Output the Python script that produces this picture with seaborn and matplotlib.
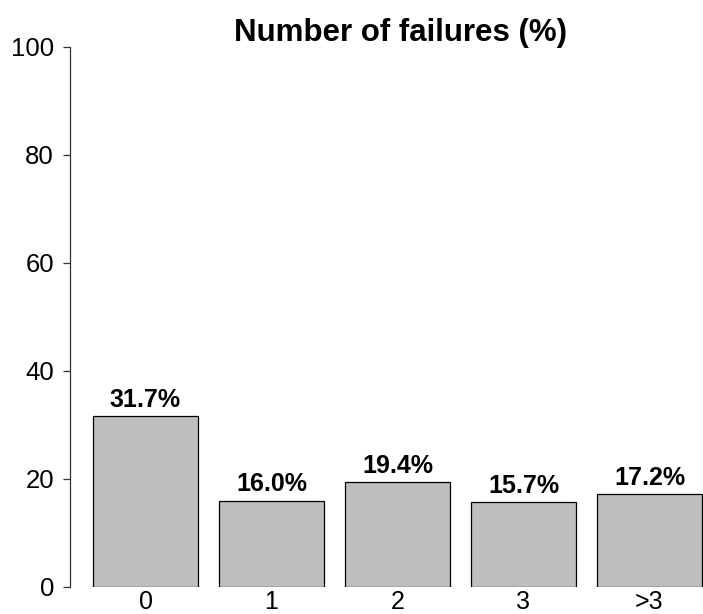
import numpy as np
import pandas as pd
import matplotlib
matplotlib.use("Agg")
import matplotlib.pyplot as plt
import seaborn as sns

# data
categories = ["0", "1", "2", "3", ">3"]
percent = [31.7, 16.0, 19.4, 15.7, 17.2]

df = pd.DataFrame({"failures": categories, "pct": percent})

sns.set_style("ticks", {"text.color": "black", "xtick.color": "black",
                        "ytick.color": "black", "axes.labelcolor": "black"})
plt.rcParams["font.family"] = ["Liberation Sans", "DejaVu Sans"]

fig = plt.figure(figsize=(7.03, 6.14), dpi=100)
# axes placed in pixel terms: spine at x=70, y=0 at 587px, y=100 at 47px
ax = fig.add_axes([70 / 703, (614 - 587) / 614, 633 / 703, 540 / 614])

sns.barplot(data=df, x="failures", y="pct", color="#BEBEBE", saturation=1,
            edgecolor="black", linewidth=0.9, width=105 / 126, ax=ax)

ax.bar_label(ax.containers[0], labels=[f"{v:.1f}%" for v in percent],
             padding=3, fontsize=18, fontweight="bold", color="black")

ax.set_ylim(0, 100)
ax.set_xlim(-0.4167 - 23 / 126, 4.4167 + 1 / 126)
ax.set_yticks([0, 20, 40, 60, 80, 100])
ax.tick_params(axis="y", labelsize=18.5, length=5, width=0.9, pad=6.5,
               color="#333333", labelcolor="black")
ax.tick_params(axis="x", labelsize=18, length=0, pad=2, labelcolor="black")
ax.set_xlabel("")
ax.set_ylabel("")

sns.despine(ax=ax, bottom=True)
ax.spines["left"].set_bounds(0, 100)
ax.spines["left"].set_color("#333333")
ax.spines["left"].set_linewidth(0.9)

fig.text(400 / 703, 1 - 33 / 614, "Number of failures (%)", ha="center", va="center",
         fontsize=22.5, fontweight="bold", color="black")

fig.savefig("out.png", dpi=100)
